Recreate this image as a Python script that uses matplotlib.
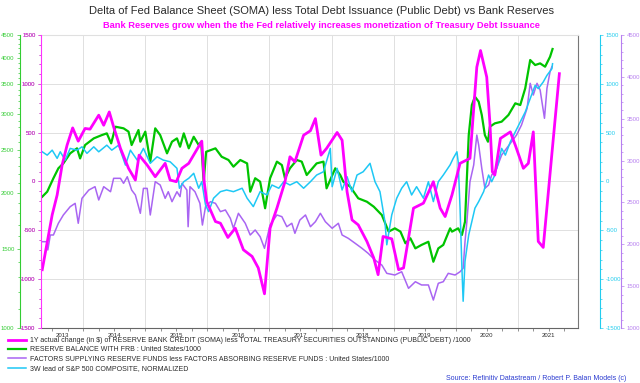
import matplotlib
matplotlib.use("Agg")
import matplotlib.pyplot as plt
from matplotlib.ticker import FixedLocator, NullFormatter, FixedFormatter

plt.rcParams["font.family"] = ["Liberation Sans", "DejaVu Sans"]

# colours
PINK = "#ff00ff"
PINK_LBL = "#ff33ff"
GREEN = "#00c400"
GREEN_LBL = "#33cc33"
PURPLE = "#a965f2"
PURPLE_LBL = "#b77ff0"
CYAN = "#1ec8f5"
CYAN_LBL = "#22ccee"
GRAY_LBL = "#555555"
GRID = "#e0e0e0"
TXT = "#2a2a2a"

TITLE = "Delta of Fed Balance Sheet (SOMA) less Total Debt Issuance (Public Debt) vs Bank Reserves"
SUBTITLE = "Bank Reserves grow when the the Fed relatively increases monetization of Treasury Debt Issuance"
SOURCE = "Source: Refinitiv Datastream / Robert P. Balan Models (c)"

LABELS = [
    "1Y actual change (in $) of RESERVE BANK CREDIT (SOMA) less TOTAL TREASURY SECURITIES OUTSTANDING (PUBLIC DEBT) /1000",
    "RESERVE BALANCE WITH FRB : United States/1000",
    "FACTORS SUPPLYING RESERVE FUNDS less FACTORS ABSORBING RESERVE FUNDS : United States/1000",
    "3W lead of S&P 500 COMPOSITE, NORMALIZED",
]

YEAR_LABELS = ["2013", "2014", "2015", "2016", "2017", "2018", "2019", "2020", "2021"]
YEAR_LABEL_X = [2013.66, 2014.5, 2015.5, 2016.5, 2017.5, 2018.5, 2019.5, 2020.5, 2021.5]
YEAR_BOUNDS = [2014, 2015, 2016, 2017, 2018, 2019, 2020, 2021]

# 1Y change of SOMA less public debt (left magenta axis)
PINK_X = [2013.34, 2013.50, 2013.58, 2013.66, 2013.74, 2013.83, 2013.92, 2014.03, 2014.11, 2014.25,
          2014.33, 2014.42, 2014.49, 2014.60, 2014.73, 2014.84, 2014.90, 2015.03, 2015.16, 2015.32,
          2015.40, 2015.50, 2015.59, 2015.70, 2015.91, 2015.95, 2015.99, 2016.13, 2016.21, 2016.33,
          2016.45, 2016.58, 2016.72, 2016.82, 2016.92, 2017.01, 2017.12, 2017.25, 2017.33, 2017.41,
          2017.55, 2017.66, 2017.74, 2017.83, 2017.92, 2018.09, 2018.17, 2018.25, 2018.33, 2018.43,
          2018.57, 2018.68, 2018.75, 2018.83, 2018.97, 2019.08, 2019.16, 2019.32, 2019.48, 2019.64,
          2019.75, 2019.83, 2019.94, 2020.07, 2020.23, 2020.34, 2020.40, 2020.50, 2020.55, 2020.59,
          2020.63, 2020.72, 2020.88, 2020.96, 2021.09, 2021.17, 2021.25, 2021.33, 2021.41, 2021.55,
          2021.67]
PINK_Y = [-903, -342, -138, 168, 372, 549, 413, 543, 536, 679,
          576, 712, 559, 339, 135, 15, 270, 168, 49, 186,
          15, -2, 135, 186, 413, -10, -206, -410, -427, -573,
          -478, -699, -767, -885, -1150, -478, -273, -2, 253, 202,
          474, 520, 644, 270, 339, 502, 423, -104, -393, -444,
          -614, -783, -954, -563, -587, -903, -885, -273, -222, -2,
          -273, -359, -138, 186, 237, 1171, 1341, 1069, 610, 100,
          66, 441, 508, 372, 135, 186, 508, -614, -675, 288,
          1104]

# reserve balances with FRB (far-left green log axis)
GREEN_X = [2013.34, 2013.42, 2013.52, 2013.60, 2013.68, 2013.79, 2013.90, 2013.95, 2014.03, 2014.17,
           2014.30, 2014.38, 2014.45, 2014.52, 2014.65, 2014.73, 2014.78, 2014.89, 2014.92, 2015.00,
           2015.08, 2015.16, 2015.24, 2015.35, 2015.43, 2015.51, 2015.56, 2015.62, 2015.70, 2015.78,
           2015.86, 2015.90, 2015.94, 2015.98, 2016.13, 2016.23, 2016.34, 2016.42, 2016.53, 2016.64,
           2016.69, 2016.77, 2016.85, 2016.93, 2017.01, 2017.12, 2017.20, 2017.25, 2017.33, 2017.44,
           2017.52, 2017.60, 2017.76, 2017.87, 2017.92, 2018.06, 2018.14, 2018.19, 2018.30, 2018.43,
           2018.57, 2018.68, 2018.81, 2018.92, 2019.02, 2019.11, 2019.19, 2019.27, 2019.35, 2019.45,
           2019.56, 2019.64, 2019.72, 2019.80, 2019.91, 2019.94, 2020.04, 2020.10, 2020.15, 2020.21,
           2020.26, 2020.31, 2020.37, 2020.42, 2020.47, 2020.52, 2020.55, 2020.63, 2020.74, 2020.85,
           2020.96, 2021.04, 2021.12, 2021.20, 2021.28, 2021.36, 2021.44, 2021.52, 2021.56]
GREEN_Y = [1962, 2013, 2157, 2270, 2328, 2451, 2515, 2388, 2558, 2647,
           2692, 2716, 2580, 2810, 2787, 2740, 2558, 2763, 2602, 2740,
           2349, 2787, 2692, 2451, 2602, 2647, 2536, 2716, 2515, 2669,
           2558, 2602, 2119, 2471, 2515, 2409, 2369, 2289, 2369, 2328,
           2013, 2157, 2119, 1849, 2157, 2349, 2308, 2157, 2270, 2369,
           2349, 2193, 2328, 2349, 2048, 2270, 2193, 2119, 2066, 1946,
           1912, 1864, 1786, 1640, 1668, 1640, 1545, 1585, 1505, 1532,
           1557, 1405, 1505, 1532, 1668, 1640, 1668, 1612, 1726, 2692,
           3141, 3279, 3196, 2985, 2692, 2602, 2810, 2859, 2884, 2985,
           3169, 3141, 3422, 3958, 3857, 3890, 3824, 4025, 4188]

# factors supplying less absorbing reserve funds (far-right purple axis)
PURPLE_X = [2013.34, 2013.42, 2013.43, 2013.47, 2013.52, 2013.60, 2013.68, 2013.79, 2013.87, 2013.92,
            2013.98, 2014.09, 2014.19, 2014.25, 2014.33, 2014.44, 2014.49, 2014.60, 2014.65, 2014.71,
            2014.78, 2014.84, 2014.92, 2014.97, 2015.03, 2015.08, 2015.16, 2015.24, 2015.32, 2015.37,
            2015.43, 2015.51, 2015.56, 2015.59, 2015.67, 2015.69, 2015.72, 2015.80, 2015.88, 2015.92,
            2015.97, 2016.05, 2016.13, 2016.21, 2016.29, 2016.37, 2016.42, 2016.50, 2016.61, 2016.69,
            2016.77, 2016.85, 2016.92, 2017.01, 2017.12, 2017.20, 2017.28, 2017.36, 2017.41, 2017.49,
            2017.58, 2017.66, 2017.74, 2017.82, 2017.90, 2018.01, 2018.11, 2018.17, 2018.27, 2018.38,
            2018.49, 2018.59, 2018.70, 2018.81, 2018.89, 2019.02, 2019.13, 2019.24, 2019.35, 2019.45,
            2019.56, 2019.64, 2019.72, 2019.80, 2019.88, 2019.99, 2020.07, 2020.12, 2020.15, 2020.18,
            2020.23, 2020.29, 2020.34, 2020.37, 2020.42, 2020.47, 2020.53, 2020.58, 2020.66, 2020.74,
            2020.82, 2020.90, 2020.98, 2021.06, 2021.15, 2021.20, 2021.25, 2021.31, 2021.36, 2021.43,
            2021.47, 2021.52, 2021.55]
PURPLE_Y = [2031, 2031, 1932, 2111, 2111, 2251, 2350, 2449, 2489, 2251,
            2549, 2648, 2688, 2529, 2688, 2628, 2788, 2788, 2728, 2807,
            2648, 2589, 2370, 2668, 2668, 2350, 2748, 2708, 2549, 2628,
            2509, 2628, 2569, 2728, 2648, 2210, 2688, 2628, 2489, 2230,
            2449, 2509, 2489, 2390, 2410, 2310, 2191, 2370, 2251, 2111,
            2171, 2091, 1952, 2230, 2350, 2330, 2210, 2251, 2131, 2290,
            2350, 2210, 2270, 2370, 2270, 2191, 2251, 2111, 2071, 2012,
            1952, 1892, 1812, 1752, 1653, 1633, 1672, 1474, 1553, 1514,
            1514, 1334, 1534, 1553, 1653, 1633, 1672, 1713, 2031, 2270,
            2748, 2947, 3305, 3186, 2907, 2668, 2708, 2828, 2907, 3066,
            3146, 3225, 3305, 3425, 3624, 3923, 3783, 3923, 3843, 3505,
            3863, 4062, 4122]

# 3W lead of S&P 500, normalized (cyan axis)
CYAN_X = [2013.34, 2013.42, 2013.50, 2013.58, 2013.63, 2013.71, 2013.79, 2013.90, 2013.98, 2014.06,
          2014.17, 2014.25, 2014.38, 2014.46, 2014.57, 2014.68, 2014.76, 2014.87, 2014.97, 2015.08,
          2015.19, 2015.29, 2015.40, 2015.51, 2015.54, 2015.55, 2015.62, 2015.70, 2015.78, 2015.86,
          2015.91, 2015.97, 2016.02, 2016.10, 2016.21, 2016.31, 2016.42, 2016.56, 2016.64, 2016.74,
          2016.85, 2016.96, 2017.04, 2017.15, 2017.23, 2017.33, 2017.44, 2017.55, 2017.66, 2017.76,
          2017.87, 2017.98, 2018.01, 2018.09, 2018.17, 2018.25, 2018.33, 2018.41, 2018.51, 2018.62,
          2018.70, 2018.78, 2018.86, 2018.89, 2018.97, 2019.05, 2019.13, 2019.21, 2019.29, 2019.37,
          2019.48, 2019.56, 2019.64, 2019.72, 2019.80, 2019.91, 2019.96, 2020.02, 2020.04, 2020.07,
          2020.10, 2020.12, 2020.15, 2020.21, 2020.26, 2020.31, 2020.37, 2020.45, 2020.53, 2020.58,
          2020.63, 2020.69, 2020.74, 2020.80, 2020.88, 2020.96, 2021.04, 2021.12, 2021.20, 2021.28,
          2021.33, 2021.41, 2021.47, 2021.55, 2021.56]
CYAN_Y = [304, 270, 321, 237, 304, 219, 339, 321, 355, 288,
          355, 304, 372, 321, 372, 168, 321, 219, 339, 186,
          253, 219, 202, 135, -18, -69, -2, 33, 84, -69,
          -2, -240, -308, -171, -104, -87, -104, -69, -171, -257,
          -104, -138, -36, -69, -2, -36, -2, -69, -2, 66,
          100, 339, -53, 135, -87, 49, -104, 66, 100, 186,
          -2, -104, -410, -648, -342, -171, -69, -2, -138, -53,
          -171, -2, -206, -2, 66, 170, 237, 304, 202, -273,
          -885, -1226, -818, -546, -410, -273, -206, -104, 66, -2,
          66, 202, 339, 270, 406, 508, 610, 712, 849, 985,
          951, 1019, 1087, 1155, 1206]

X_MIN, X_MAX = 2013.32, 2021.97
QUARTERS = [2013.5, 2013.75, 2014.0, 2014.25, 2014.5, 2014.75, 2015.0, 2015.25, 2015.5, 2015.75,
            2016.0, 2016.25, 2016.5, 2016.75, 2017.0, 2017.25, 2017.5, 2017.75, 2018.0, 2018.25,
            2018.5, 2018.75, 2019.0, 2019.25, 2019.5, 2019.75, 2020.0, 2020.25, 2020.5, 2020.75,
            2021.0, 2021.25, 2021.5, 2021.75]

SYM_MAJOR = [-1500, -1000, -500, 0, 500, 1000, 1500]
LVL_MAJOR = [1000, 1500, 2000, 2500, 3000, 3500, 4000, 4500]


def style_axis(a, side, color, lbl_color, major, minor_step, lo, hi):
    a.set_ylim(lo, hi)
    a.yaxis.set_major_locator(FixedLocator(major))
    a.yaxis.set_major_formatter(FixedFormatter([str(v) for v in major]))
    minors = [v for v in range(lo, hi + 1, minor_step) if v not in major]
    a.yaxis.set_minor_locator(FixedLocator(minors))
    a.yaxis.set_minor_formatter(NullFormatter())
    a.spines[side].set_color(color)
    a.spines[side].set_linewidth(0.8)
    a.tick_params(axis="y", which="both", colors=color, labelcolor=lbl_color,
                  labelsize=4.3, width=0.5, direction="out", pad=1.5)
    a.tick_params(axis="y", which="major", length=2.5)
    a.tick_params(axis="y", which="minor", length=1.5)


fig = plt.figure(figsize=(6.4, 3.83), dpi=100)
fig.patch.set_facecolor("white")

# base axes: grid, x axis and grey right scale
ax = fig.add_axes([41 / 640, 1 - 328 / 383, 537 / 640, 293 / 383])
ax.set_xlim(X_MIN, X_MAX)
ax.yaxis.tick_right()
style_axis(ax, "right", "#777777", GRAY_LBL, SYM_MAJOR, 100, -1500, 1500)
ax.spines["left"].set_visible(False)
ax.spines["top"].set_color(GRID)
ax.spines["bottom"].set_color("#666666")
ax.spines["bottom"].set_linewidth(0.8)
ax.xaxis.set_major_locator(FixedLocator(QUARTERS))
ax.xaxis.set_major_formatter(NullFormatter())
ax.tick_params(axis="x", length=2, width=0.5, colors="#666666")
ax.yaxis.grid(True, which="major", color=GRID, lw=0.7)
for yb in YEAR_BOUNDS:
    ax.axvline(yb, color=GRID, lw=0.7, zorder=0)
for lbl, xp in zip(YEAR_LABELS, YEAR_LABEL_X):
    ax.text(xp, -0.024, lbl, transform=ax.get_xaxis_transform(), ha="center", va="center",
            fontsize=4.3, color=TXT)

# green (log) on the far left
ax_g = ax.twinx()
ax_g.set_yscale("log")
ax_g.spines["left"].set_position(("axes", -21 / 537))
ax_g.spines["left"].set_visible(True)
ax_g.spines["right"].set_visible(False)
ax_g.spines["top"].set_visible(False)
ax_g.spines["bottom"].set_visible(False)
ax_g.yaxis.set_ticks_position("left")
style_axis(ax_g, "left", GREEN_LBL, GREEN_LBL, LVL_MAJOR, 100, 1000, 4500)
(l_green,) = ax_g.plot(GREEN_X, GREEN_Y, color=GREEN, lw=1.6)

# purple on the far right
ax_p = ax.twinx()
ax_p.spines["right"].set_position(("axes", 580 / 537))
for s in ("left", "top", "bottom"):
    ax_p.spines[s].set_visible(False)
style_axis(ax_p, "right", PURPLE_LBL, PURPLE_LBL, LVL_MAJOR, 100, 1000, 4500)
(l_purple,) = ax_p.plot(PURPLE_X, PURPLE_Y, color=PURPLE, lw=1.1)

# cyan on the right
ax_c = ax.twinx()
ax_c.spines["right"].set_position(("axes", 559 / 537))
for s in ("left", "top", "bottom"):
    ax_c.spines[s].set_visible(False)
style_axis(ax_c, "right", CYAN_LBL, CYAN_LBL, SYM_MAJOR, 100, -1500, 1500)
(l_cyan,) = ax_c.plot(CYAN_X, CYAN_Y, color=CYAN, lw=1.1)

# magenta on the inner left, drawn on top
ax_m = ax.twinx()
ax_m.yaxis.set_ticks_position("left")
ax_m.spines["left"].set_visible(True)
for s in ("right", "top", "bottom"):
    ax_m.spines[s].set_visible(False)
style_axis(ax_m, "left", PINK_LBL, PINK_LBL, SYM_MAJOR, 100, -1500, 1500)
(l_pink,) = ax_m.plot(PINK_X, PINK_Y, color=PINK, lw=2.0)

fig.text(0.503, 1 - 11 / 383, TITLE, ha="center", va="center", fontsize=8, color=TXT)
fig.text(0.502, 1 - 25 / 383, SUBTITLE, ha="center", va="center", fontsize=6.7,
         color=PINK, fontweight="bold")

fig.legend([l_pink, l_green, l_purple, l_cyan], LABELS, loc="upper left",
           bbox_to_anchor=(8 / 640, 1 - 337 / 383), frameon=False, fontsize=5,
           handlelength=2.6, handletextpad=0.6, labelspacing=0.35,
           borderaxespad=0, borderpad=0, labelcolor=TXT)

fig.text(626 / 640, 1 - 378 / 383, SOURCE, ha="right", va="center", fontsize=5, color="#2b3bd0")

fig.savefig("out.png", dpi=100, facecolor="white")
